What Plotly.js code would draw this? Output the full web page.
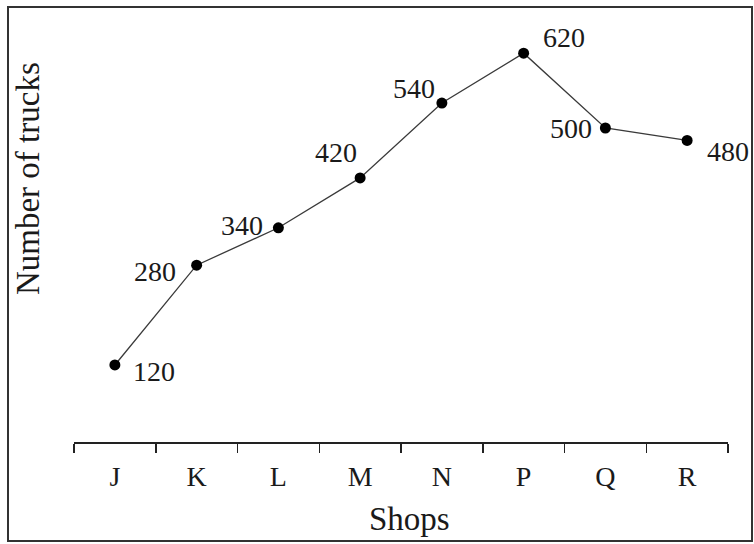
<!DOCTYPE html>
<html>
<head>
<meta charset="utf-8">
<script src="https://cdn.plot.ly/plotly-3.0.1.min.js"></script>
<style>
  html, body { margin: 0; padding: 0; background: #fff; }
  #wrap { position: relative; width: 754px; height: 544px; overflow: hidden; }
  #frame { position: absolute; left: 7px; top: 6px; width: 746px; height: 536px;
           box-sizing: border-box; border: 2px solid #333; pointer-events: none; }
  #chart { position: absolute; left: 0; top: 0; width: 754px; height: 544px; }
</style>
</head>
<body>
<div id="wrap">
  <div id="chart"></div>
  <div id="frame"></div>
</div>
<script>
const shops = ["J", "K", "L", "M", "N", "P", "Q", "R"];
const trucks = [120, 280, 340, 420, 540, 620, 500, 480];
const xTitle = "Shops";
const yTitle = "Number of trucks";
// label offsets (pixels) relative to each point
const labelDx = [39, -42, -36, -24, -28, 40, -34, 41];
const labelDy = [-7, -6, 2, 25, 15, 16, -1, -11];

const serif = "Times New Roman, Liberation Serif, serif";
const ink = "#1a1a1a";

const trace = {
  type: "scatter",
  mode: "lines+markers",
  x: shops,
  y: trucks,
  line: { color: "#3a3a3a", width: 1.3 },
  marker: { color: "#000", size: 11 },
  hoverinfo: "x+y",
  showlegend: false
};

const annotations = shops.map((s, i) => ({
  x: s, y: trucks[i], xref: "x", yref: "y",
  text: String(trucks[i]), showarrow: false,
  xshift: labelDx[i], yshift: labelDy[i],
  font: { family: serif, size: 28, color: ink }
}));

annotations.push({
  xref: "paper", yref: "paper", x: -0.0703, y: 0.6046,
  xanchor: "center", yanchor: "middle", textangle: -90,
  text: yTitle, showarrow: false,
  font: { family: serif, size: 33, color: ink }
});
annotations.push({
  xref: "paper", yref: "paper", x: 0.513, y: -0.177,
  xanchor: "center", yanchor: "middle",
  text: xTitle, showarrow: false,
  font: { family: serif, size: 33, color: ink }
});

const layout = {
  width: 754, height: 544,
  margin: { l: 74, r: 26, t: 7, b: 102 },
  paper_bgcolor: "rgba(0,0,0,0)",
  plot_bgcolor: "rgba(0,0,0,0)",
  showlegend: false,
  xaxis: {
    type: "category",
    range: [-0.5, 7.5],
    showline: true, linecolor: "#222", linewidth: 2,
    ticks: "outside", tickson: "boundaries", ticklen: 9, tickwidth: 1.5, tickcolor: "#222",
    ticklabelstandoff: 8,
    showgrid: false, zeroline: false,
    tickfont: { family: serif, size: 28, color: ink },
    fixedrange: true
  },
  yaxis: {
    range: [-3.5, 694],
    showline: false, showgrid: false, zeroline: false,
    showticklabels: false, ticks: "",
    fixedrange: true
  },
  annotations: annotations
};

Plotly.newPlot("chart", [trace], layout, { displayModeBar: false, staticPlot: true });
</script>
</body>
</html>
